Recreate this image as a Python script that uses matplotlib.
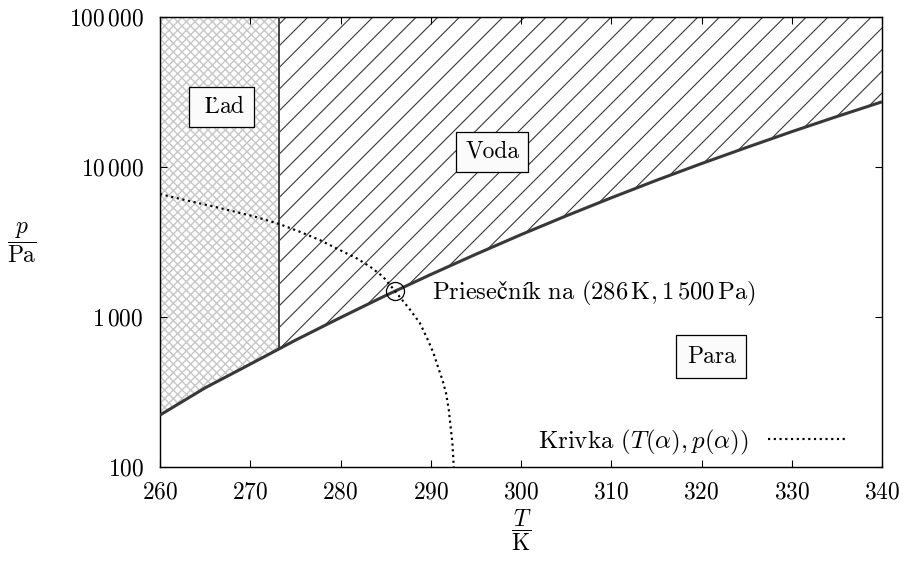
import numpy as np
import matplotlib
matplotlib.use("Agg")
import matplotlib.pyplot as plt

# ---------------- data ----------------
sat_T = [260, 265, 270, 273.15, 275, 280, 285, 290, 295, 300, 305, 310,
         315, 320, 325, 330, 335, 340]
sat_p = [222, 337, 485, 611, 700, 991, 1390, 1920, 2620, 3540, 4720, 6230,
         8150, 10540, 13500, 17200, 21700, 27200]

curve_T = [260, 263.1, 266.8, 270.5, 273.2, 275.5, 277.7, 279.9, 281.8, 283.3,
           284.7, 286.0, 287.7, 288.8, 289.7, 290.3, 290.8, 291.3, 291.7,
           292.0, 292.2, 292.4, 292.55]
curve_p = [6600, 5960, 5300, 4670, 4170, 3700, 3260, 2800, 2460, 2160,
           1860, 1500, 1120, 910, 700, 575, 465, 380, 310,
           240, 186, 144, 100]

T_triple, p_triple = 273.15, 611
p_top = 100000
cross_T, cross_p = 286, 1500

x_ticks = [260, 270, 280, 290, 300, 310, 320, 330, 340]
y_ticks = [100, 1000, 10000, 100000]
y_ticklabels = [r'$100$', r'$1\,000$', r'$10\,000$', r'$100\,000$']

# ---------------- style ----------------
DPI = 130
plt.rcParams['font.family'] = ['cmr10', 'DejaVu Serif']
plt.rcParams['mathtext.fontset'] = 'cm'
plt.rcParams['axes.formatter.use_mathtext'] = True
plt.rcParams['axes.unicode_minus'] = False
FS = 13.0
TFS = 13.0

fig = plt.figure(figsize=(908 / DPI, 568 / DPI), dpi=DPI)
ax = fig.add_axes([160 / 908, 1 - 467 / 568, 722 / 908, 450 / 568])
ax.set_yscale('log')
ax.set_xlim(260, 340)
ax.set_ylim(100, 100000)

sat_T_a = np.array(sat_T, float)
sat_p_a = np.array(sat_p, float)
ice = sat_T_a <= T_triple
wat = sat_T_a >= T_triple

with plt.rc_context({'hatch.linewidth': 0.8}):
    ax.fill_between(sat_T_a[ice], sat_p_a[ice], p_top, facecolor='white',
                    edgecolor='#c8c8c8', hatch='xxxxx', linewidth=0, zorder=1)
with plt.rc_context({'hatch.linewidth': 0.6}):
    ax.fill_between(sat_T_a[wat], sat_p_a[wat], p_top, facecolor='white',
                    edgecolor='#333333', hatch='//', linewidth=0, zorder=1)

ax.vlines(T_triple, p_triple, p_top, color='#444444', lw=1.1, zorder=3)
ax.plot(sat_T, sat_p, color='#383838', lw=1.7, zorder=3,
        solid_capstyle='butt')
ax.plot(curve_T, curve_p, color='black', lw=1.2, ls=':', zorder=4,
        label=r'Krivka $(T(\alpha), p(\alpha))$')
ax.plot(cross_T, cross_p, 'o', mfc='none', mec='black', mew=0.7, ms=10,
        zorder=5)

box = dict(boxstyle='square,pad=0.38', facecolor='#fbfbfb',
           edgecolor='black', linewidth=0.7)
ax.text(266.81, 25300, r'$\mathrm{\ Ľad\ }$', fontsize=FS, ha='center',
        va='center', bbox=box, zorder=6)
ax.text(296.8, 12630, 'Voda', fontsize=FS, ha='center', va='center',
        bbox=box, zorder=6)
ax.text(321.1, 545, 'Para', fontsize=FS, ha='center', va='center',
        bbox=dict(box, boxstyle='square,pad=0.45'), zorder=6)
ax.text(290.1, 1445,
        r'$\mathrm{Priesečník\ na}\ (286\,\mathrm{K}, 1\,500\,\mathrm{Pa})$',
        fontsize=13.6, ha='left', va='center', zorder=6)

ax.set_xticks(x_ticks)
ax.set_xticklabels([r'$%d$' % t for t in x_ticks])
ax.set_yticks(y_ticks)
ax.set_yticklabels(y_ticklabels)
ax.minorticks_off()
ax.tick_params(which='both', direction='in', length=3.9, width=0.6,
               top=True, right=True, labelsize=TFS, colors='black')
ax.tick_params(axis='x', pad=8.0)
ax.tick_params(axis='y', pad=9.0)
for s in ax.spines.values():
    s.set_linewidth(0.8)

ax.set_xlabel(r'$\dfrac{T}{\mathrm{K}}$', fontsize=FS, va='center')
ax.xaxis.set_label_coords(0.5, -0.14)
ax.set_ylabel(r'$\dfrac{p}{\mathrm{Pa}}$', fontsize=FS, rotation=0,
              ha='center', va='center')
ax.yaxis.set_label_coords(-0.191, 0.498)

leg = ax.legend(loc='center right',
                bbox_to_anchor=((848 - 160) / 722, (467 - 442) / 450),
                frameon=False, markerfirst=False, fontsize=13.8, borderpad=0,
                borderaxespad=0, handlelength=3.2, handletextpad=0.8)

fig.savefig('out.png', dpi=DPI)
